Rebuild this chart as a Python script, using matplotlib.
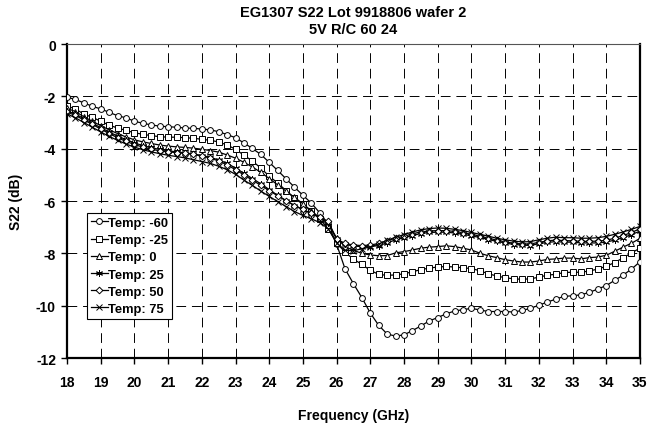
import numpy as np
import matplotlib
matplotlib.use("Agg")
import matplotlib.pyplot as plt

freq = np.arange(18.0, 35.001, 0.25)

temp_m60 = [-2.03, -2.12, -2.25, -2.38, -2.48, -2.61, -2.74, -2.82, -2.95, -3.03,
            -3.09, -3.14, -3.16, -3.18, -3.21, -3.22, -3.25, -3.28, -3.35, -3.46,
            -3.58, -3.78, -3.99, -4.22, -4.52, -4.83, -5.15, -5.47, -5.78, -6.08,
            -6.45, -6.88, -7.65, -8.59, -9.16, -9.69, -10.28, -10.75, -11.08, -11.16,
            -11.11, -10.95, -10.77, -10.58, -10.45, -10.31, -10.20, -10.15, -10.10, -10.16,
            -10.22, -10.22, -10.22, -10.24, -10.18, -10.10, -9.98, -9.86, -9.75, -9.64,
            -9.62, -9.58, -9.49, -9.36, -9.23, -9.03, -8.83, -8.60, -8.32]

temp_m25 = [-2.37, -2.48, -2.68, -2.80, -2.95, -3.10, -3.21, -3.30, -3.39, -3.45,
            -3.50, -3.54, -3.56, -3.56, -3.58, -3.60, -3.64, -3.68, -3.74, -3.86,
            -4.02, -4.25, -4.47, -4.74, -5.05, -5.31, -5.60, -5.90, -6.12, -6.38,
            -6.68, -7.05, -7.60, -7.95, -8.22, -8.42, -8.65, -8.80, -8.84, -8.82,
            -8.78, -8.70, -8.62, -8.56, -8.52, -8.50, -8.52, -8.55, -8.58, -8.66,
            -8.78, -8.86, -8.93, -8.97, -8.99, -8.97, -8.91, -8.83, -8.80, -8.73,
            -8.72, -8.72, -8.67, -8.60, -8.49, -8.35, -8.17, -7.98, -7.80]

temp_0 = [-2.46, -2.58, -2.78, -2.95, -3.12, -3.28, -3.42, -3.55, -3.66, -3.74,
          -3.80, -3.86, -3.90, -3.93, -3.95, -3.98, -4.02, -4.07, -4.13, -4.24,
          -4.36, -4.52, -4.70, -4.90, -5.14, -5.38, -5.62, -5.86, -6.10, -6.38,
          -6.64, -6.92, -7.40, -7.75, -7.88, -8.00, -8.06, -8.09, -8.08, -7.98,
          -7.93, -7.87, -7.80, -7.76, -7.74, -7.71, -7.74, -7.80, -7.87, -7.99,
          -8.09, -8.16, -8.24, -8.29, -8.33, -8.33, -8.29, -8.23, -8.21, -8.18,
          -8.18, -8.21, -8.16, -8.14, -8.07, -7.92, -7.76, -7.61, -7.43]

temp_25 = [-2.55, -2.68, -2.85, -3.02, -3.20, -3.36, -3.52, -3.65, -3.78, -3.88,
           -3.96, -4.03, -4.08, -4.12, -4.16, -4.20, -4.26, -4.33, -4.43, -4.56,
           -4.74, -4.94, -5.14, -5.34, -5.56, -5.78, -5.98, -6.17, -6.33, -6.48,
           -6.63, -6.82, -7.45, -7.65, -7.72, -7.74, -7.74, -7.70, -7.60, -7.48,
           -7.40, -7.32, -7.24, -7.20, -7.19, -7.19, -7.22, -7.27, -7.33, -7.39,
           -7.47, -7.54, -7.60, -7.66, -7.68, -7.70, -7.63, -7.58, -7.55, -7.57,
           -7.57, -7.60, -7.60, -7.60, -7.57, -7.49, -7.40, -7.28, -7.15]

temp_50 = [-2.60, -2.73, -2.90, -3.07, -3.25, -3.42, -3.58, -3.72, -3.84, -3.94,
           -4.02, -4.08, -4.12, -4.15, -4.18, -4.22, -4.28, -4.36, -4.47, -4.62,
           -4.80, -5.00, -5.20, -5.40, -5.60, -5.80, -5.99, -6.17, -6.32, -6.47,
           -6.62, -6.78, -7.45, -7.62, -7.68, -7.70, -7.68, -7.62, -7.52, -7.42,
           -7.35, -7.25, -7.18, -7.14, -7.13, -7.13, -7.16, -7.21, -7.27, -7.34,
           -7.42, -7.49, -7.56, -7.61, -7.64, -7.64, -7.58, -7.52, -7.49, -7.51,
           -7.52, -7.54, -7.54, -7.53, -7.50, -7.42, -7.32, -7.20, -7.06]

temp_75 = [-2.67, -2.82, -3.00, -3.18, -3.36, -3.53, -3.68, -3.82, -3.94, -4.04,
           -4.12, -4.19, -4.25, -4.30, -4.35, -4.42, -4.49, -4.56, -4.67, -4.80,
           -4.98, -5.20, -5.40, -5.62, -5.82, -6.02, -6.21, -6.40, -6.55, -6.68,
           -6.82, -7.05, -7.60, -7.88, -7.90, -7.82, -7.75, -7.64, -7.50, -7.38,
           -7.28, -7.18, -7.10, -7.05, -7.03, -7.04, -7.08, -7.13, -7.20, -7.27,
           -7.34, -7.42, -7.48, -7.53, -7.56, -7.55, -7.48, -7.42, -7.38, -7.40,
           -7.40, -7.42, -7.42, -7.40, -7.35, -7.27, -7.18, -7.08, -6.97]

series_labels = ["Temp: -60", "Temp: -25", "Temp: 0", "Temp: 25", "Temp: 50", "Temp: 75"]
series_values = [temp_m60, temp_m25, temp_0, temp_25, temp_50, temp_75]
markers = ["o", "s", "^", (6, 2, 0), "D", "x"]
msizes = [4.2, 4.2, 4.4, 5.0, 3.4, 4.4]

x_ticks = list(range(18, 36))
y_ticks = [0, -2, -4, -6, -8, -10, -12]

plt.rcParams['font.family'] = ['Liberation Sans', 'DejaVu Sans']
plt.rcParams['font.weight'] = 'bold'

fig = plt.figure(figsize=(6.57, 4.27), dpi=100)
ax = fig.add_axes([0.102, 0.159, 0.872, 0.7356])

for lab, vals, mk, ms in zip(series_labels, series_values, markers, msizes):
    ax.plot(freq, vals, color="black", linewidth=0.9, marker=mk, markersize=ms,
            markerfacecolor="white", markeredgecolor="black", markeredgewidth=0.7,
            label=lab, zorder=3)

ax.set_xlim(18, 35)
ax.set_ylim(-12, 0)
ax.set_xticks(x_ticks)
ax.set_yticks(y_ticks)
ax.set_xticklabels([str(t) for t in x_ticks], fontsize=10, fontweight="bold")
ax.set_yticklabels([str(t) for t in y_ticks], fontsize=10, fontweight="bold")
ax.tick_params(axis="both", direction="out", length=4, width=1.0, color="black")
ax.tick_params(axis="x", pad=8)
ax.tick_params(axis="y", pad=4)

ax.grid(True, color="black", linewidth=0.7, linestyle=(0, (10, 6)), zorder=1)
ax.set_axisbelow(True)

for s in ["left", "bottom", "right"]:
    ax.spines[s].set_linewidth(1.6)
    ax.spines[s].set_color("black")
ax.spines["top"].set_linewidth(0.8)
ax.spines["top"].set_color("#555555")

ax.set_xlabel("Frequency (GHz)", fontsize=10, fontweight="bold", labelpad=14)
ax.set_ylabel("S22 (dB)", fontsize=10, fontweight="bold", labelpad=9)
ax.set_title("EG1307 S22 Lot 9918806 wafer 2\n5V R/C 60 24", fontsize=10.5,
             fontweight="bold", pad=8, linespacing=1.3)

leg = ax.legend(loc="upper left", bbox_to_anchor=(0.035, 0.462), fontsize=9.3,
                frameon=True, fancybox=False, edgecolor="black", framealpha=1,
                handlelength=1.3, handletextpad=0.05, borderpad=0.3,
                labelspacing=0.4, borderaxespad=0)
leg.get_frame().set_linewidth(0.8)
for t in leg.get_texts():
    t.set_fontweight("bold")

fig.savefig("out.png", dpi=100, facecolor="white")
